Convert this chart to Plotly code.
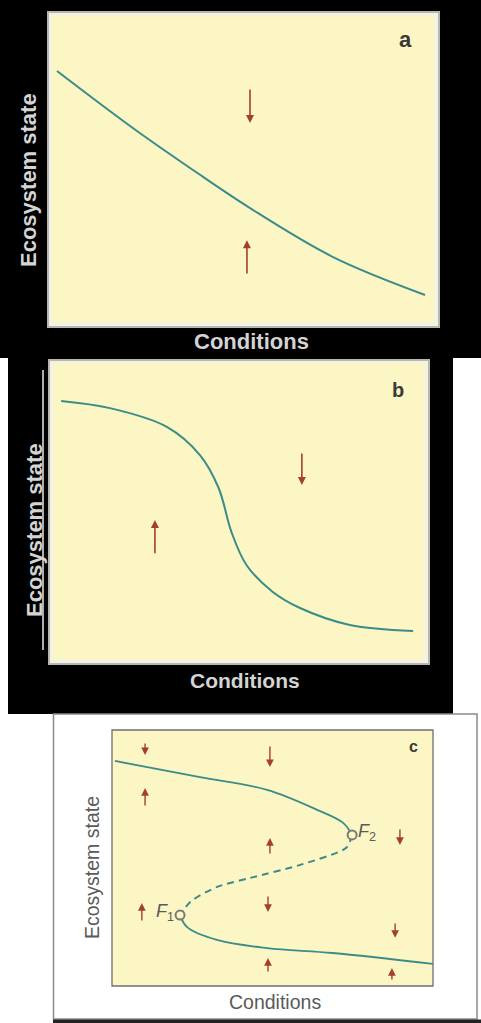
import plotly.graph_objects as go

W, H = 481, 1023

# ---------------- data ----------------
# Panel a: single stable equilibrium curve
a_x = [0.13, 2.11, 3.70, 5.12, 7.34, 9.74]
a_y = [8.18, 6.33, 4.95, 3.77, 2.14, 0.91]
a_arrow_x = [5.17, 5.09]
a_arrow_from = [7.63, 1.56]
a_arrow_to = [6.49, 2.69]

# Panel b: steep sigmoid equilibrium curve
b_x = [0.22, 1.53, 3.06, 3.95, 4.45, 4.80, 5.20, 5.90, 6.64, 7.98, 9.68]
b_y = [8.72, 8.48, 7.85, 6.90, 5.80, 4.30, 3.20, 2.30, 1.75, 1.18, 0.98]
b_arrow_x = [2.74, 6.69]
b_arrow_from = [3.54, 7.00]
b_arrow_to = [4.71, 5.89]

# Panel c: fold (bistability)
c_up_x = [0.09, 2.74, 4.83, 6.39, 7.20, 7.48]
c_up_y = [8.79, 8.16, 7.66, 6.88, 6.37, 5.90]
c_mid_x = [7.48, 7.30, 5.86, 4.30, 3.27, 2.45, 2.12]
c_mid_y = [5.90, 5.40, 4.73, 4.22, 3.87, 3.30, 2.77]
c_low_x = [2.12, 2.34, 3.27, 4.83, 6.88, 10.0]
c_low_y = [2.77, 2.30, 1.80, 1.48, 1.29, 0.86]
c_fold_x = [2.12, 7.48]
c_fold_y = [2.77, 5.90]
c_fold_labels = ["<i>F</i><sub>1</sub>", "<i>F</i><sub>2</sub>"]
c_arrow_x = [1.03, 1.03, 4.92, 4.92, 8.97, 0.93, 4.86, 8.82, 4.86, 8.72]
c_arrow_from = [9.53, 6.99, 9.41, 5.12, 6.17, 2.50, 3.55, 2.50, 0.51, 0.20]
c_arrow_to = [9.02, 7.73, 8.55, 5.78, 5.51, 3.24, 2.89, 1.88, 1.09, 0.70]

panel_labels = ["a", "b", "c"]
x_title = "Conditions"
y_title = "Ecosystem state"

# ---------------- styling ----------------
YELLOW = "#fcf6c4"
TEAL = "#3a8c89"
ARROW = "#a3402b"
FONT = "Liberation Sans"


def px(x):
    return x / W


def py(y):
    return 1 - y / H


# plot-area boxes in pixels: (left, top, right, bottom)
box_a = (52, 15, 435, 323)
box_b = (53, 363, 425, 660)
box_c = (112, 730, 433, 986)


def dom(box):
    l, t, r, b = box
    return [px(l), px(r)], [py(b), py(t)]


fig = go.Figure()

fig.add_trace(go.Scatter(x=a_x, y=a_y, mode="lines", line=dict(color=TEAL, width=2, shape="spline"),
                         xaxis="x", yaxis="y", showlegend=False, hoverinfo="skip"))
fig.add_trace(go.Scatter(x=b_x, y=b_y, mode="lines", line=dict(color=TEAL, width=2, shape="spline", smoothing=1.0),
                         xaxis="x2", yaxis="y2", showlegend=False, hoverinfo="skip"))
fig.add_trace(go.Scatter(x=c_up_x, y=c_up_y, mode="lines", line=dict(color=TEAL, width=1.8, shape="spline"),
                         xaxis="x3", yaxis="y3", showlegend=False, hoverinfo="skip"))
fig.add_trace(go.Scatter(x=c_mid_x, y=c_mid_y, mode="lines",
                         line=dict(color=TEAL, width=2, shape="spline", smoothing=0.7, dash="7px,5px"),
                         xaxis="x3", yaxis="y3", showlegend=False, hoverinfo="skip"))
fig.add_trace(go.Scatter(x=c_low_x, y=c_low_y, mode="lines", line=dict(color=TEAL, width=1.8, shape="spline"),
                         xaxis="x3", yaxis="y3", showlegend=False, hoverinfo="skip"))
fig.add_trace(go.Scatter(x=c_fold_x, y=c_fold_y, mode="markers",
                         marker=dict(symbol="circle", size=9, color=YELLOW, line=dict(color="#7a7a7a", width=2)),
                         xaxis="x3", yaxis="y3", showlegend=False, hoverinfo="skip"))

shapes = []
shapes.append(dict(type="rect", xref="paper", yref="paper", x0=px(0), x1=px(481), y0=py(358), y1=py(0),
                   fillcolor="black", line=dict(width=0), layer="below"))
shapes.append(dict(type="rect", xref="paper", yref="paper", x0=px(8), x1=px(453), y0=py(714), y1=py(358),
                   fillcolor="black", line=dict(width=0), layer="below"))
shapes.append(dict(type="rect", xref="paper", yref="paper", x0=px(53.5), x1=px(477), y0=py(1019), y1=py(714),
                   fillcolor="white", line=dict(color="#8a8a8a", width=1.5), layer="below"))
shapes.append(dict(type="rect", xref="paper", yref="paper", x0=px(53), x1=px(481), y0=py(1023), y1=py(1019.5),
                   fillcolor="#222222", line=dict(width=0), layer="below"))
for box in (box_a, box_b):
    l, t, r, b = box
    shapes.append(dict(type="rect", xref="paper", yref="paper", x0=px(l - 5), x1=px(r + 5), y0=py(b + 5), y1=py(t - 4),
                       fillcolor="#b9b7aa", line=dict(width=0), layer="below"))
    shapes.append(dict(type="rect", xref="paper", yref="paper", x0=px(l - 3), x1=px(r + 3), y0=py(b + 3), y1=py(t - 2),
                       fillcolor="#f2f1ea", line=dict(width=0), layer="below"))
    shapes.append(dict(type="rect", xref="paper", yref="paper", x0=px(l), x1=px(r), y0=py(b), y1=py(t),
                       fillcolor=YELLOW, line=dict(width=0), layer="below"))
shapes.append(dict(type="line", xref="paper", yref="paper", x0=px(43), x1=px(43), y0=py(650), y1=py(370),
                   line=dict(color="#e8e8e8", width=1.5), layer="below"))
l, t, r, b = box_c
shapes.append(dict(type="rect", xref="paper", yref="paper", x0=px(l), x1=px(r), y0=py(b), y1=py(t),
                   fillcolor=YELLOW, line=dict(color="#6f6f6f", width=1.3), layer="below"))

annotations = []


def add_arrows(xs, y0s, y1s, ax_id, width, size):
    for x, y0, y1 in zip(xs, y0s, y1s):
        annotations.append(dict(x=x, y=y1, ax=x, ay=y0, xref=ax_id, yref=ax_id.replace("x", "y"),
                                axref=ax_id, ayref=ax_id.replace("x", "y"), showarrow=True, text="",
                                arrowhead=2, arrowsize=size, arrowwidth=width, arrowcolor=ARROW, standoff=0))


add_arrows(a_arrow_x, a_arrow_from, a_arrow_to, "x", 1.6, 1.0)
add_arrows(b_arrow_x, b_arrow_from, b_arrow_to, "x2", 1.6, 1.0)
add_arrows(c_arrow_x, c_arrow_from, c_arrow_to, "x3", 1.4, 1.1)

C = dict(xanchor="center", yanchor="middle", showarrow=False)
annotations.append(dict(x=9.22, y=9.19, xref="x", yref="y", text="<b>%s</b>" % panel_labels[0],
                        font=dict(family=FONT, size=22, color="#3a3a3a"), **C))
annotations.append(dict(x=9.27, y=9.09, xref="x2", yref="y2", text="<b>%s</b>" % panel_labels[1],
                        font=dict(family=FONT, size=20, color="#3a3a3a"), **C))
annotations.append(dict(x=9.38, y=9.34, xref="x3", yref="y3", text="<b>%s</b>" % panel_labels[2],
                        font=dict(family=FONT, size=16, color="#3a3a3a"), **C))

annotations.append(dict(x=c_fold_x[0], y=c_fold_y[0] + 0.1, xref="x3", yref="y3", text=c_fold_labels[0],
                        showarrow=False, xanchor="right", yanchor="middle", xshift=-4,
                        font=dict(family=FONT, size=18, color="#5a5a5a")))
annotations.append(dict(x=c_fold_x[1], y=c_fold_y[1] + 0.1, xref="x3", yref="y3", text=c_fold_labels[1],
                        showarrow=False, xanchor="left", yanchor="middle", xshift=4,
                        font=dict(family=FONT, size=18, color="#5a5a5a")))

light = "#d4d4d4"
annotations += [
    dict(x=px(28), y=py(180), xref="paper", yref="paper", text="<b>%s</b>" % y_title, textangle=-90,
         font=dict(family=FONT, size=22, color=light), **C),
    dict(x=px(251), y=py(342), xref="paper", yref="paper", text="<b>%s</b>" % x_title,
         font=dict(family=FONT, size=22, color=light), **C),
    dict(x=px(34), y=py(530), xref="paper", yref="paper", text="<b>%s</b>" % y_title, textangle=-90,
         font=dict(family=FONT, size=22, color=light), **C),
    dict(x=px(245), y=py(680), xref="paper", yref="paper", text="<b>%s</b>" % x_title,
         font=dict(family=FONT, size=21, color=light), **C),
    dict(x=px(92), y=py(868), xref="paper", yref="paper", text=y_title, textangle=-90,
         font=dict(family=FONT, size=19.5, color="#5a5a5a"), **C),
    dict(x=px(275), y=py(1002), xref="paper", yref="paper", text=x_title,
         font=dict(family=FONT, size=19.5, color="#5a5a5a"), **C),
]

ax_common = dict(range=[0, 10], visible=False, fixedrange=True)
xa, ya = dom(box_a)
xb, yb = dom(box_b)
xc, yc = dom(box_c)

fig.update_layout(
    width=W, height=H, margin=dict(l=0, r=0, t=0, b=0),
    paper_bgcolor="white", plot_bgcolor="rgba(0,0,0,0)",
    xaxis=dict(domain=xa, anchor="y", **ax_common),
    yaxis=dict(domain=ya, anchor="x", **ax_common),
    xaxis2=dict(domain=xb, anchor="y2", **ax_common),
    yaxis2=dict(domain=yb, anchor="x2", **ax_common),
    xaxis3=dict(domain=xc, anchor="y3", **ax_common),
    yaxis3=dict(domain=yc, anchor="x3", **ax_common),
    shapes=shapes, annotations=annotations, showlegend=False,
)

fig.write_html("out.html", config={"displayModeBar": False},
               post_script="document.body.style.margin='0';document.body.style.padding='0';"
                           "document.documentElement.style.overflow='hidden';")
